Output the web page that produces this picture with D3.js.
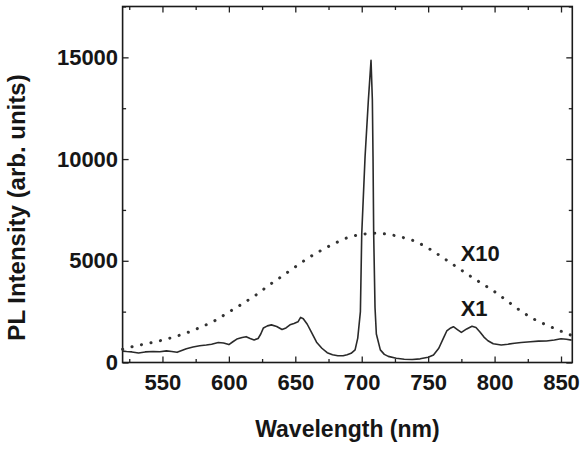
<!DOCTYPE html>
<html>
<head>
<meta charset="utf-8">
<script src="https://cdn.jsdelivr.net/npm/d3@7"></script>
<style>
  body { margin: 0; background: #fff; }
  svg text { font-family: "Liberation Sans", Arial, sans-serif; font-weight: bold; fill: #161616; }
</style>
</head>
<body>
<div id="plot"></div>
<script>
// PL spectrum
// X1 curve (solid)
const x1Wave = [520, 523, 527, 532, 537, 543, 548, 553, 557, 561, 565, 568, 573, 578, 583, 587, 592, 596, 600,
  603, 606, 610, 613, 616, 619, 622, 624, 626, 629, 632, 636, 640, 643, 646, 649, 652, 654, 656, 659, 662, 666,
  670, 674, 678, 682, 686, 689, 692, 695, 697, 699, 700, 702.5, 705, 707, 708, 708.5, 709, 710, 711, 714, 717,
  720, 726, 732, 738, 744, 750, 754, 758, 761.5, 764, 767, 769, 772, 775, 779, 783, 786, 789, 792, 795, 799,
  805, 810, 815, 820, 827, 833, 839, 845, 850, 854, 858];
const x1Int = [560, 540, 520, 470, 520, 540, 530, 570, 540, 500, 600, 680, 760, 820, 860, 900, 980, 960, 880,
  1020, 1150, 1230, 1270, 1180, 1110, 1180, 1400, 1700, 1800, 1850, 1770, 1620, 1700, 1850, 1920, 2000, 2220, 2150,
  1880, 1500, 1000, 700, 480, 380, 330, 330, 380, 450, 620, 1200, 2500, 6300, 10100, 12900, 14850, 12900, 10100,
  6300, 2700, 1400, 620, 400, 300, 210, 160, 150, 180, 260, 370, 700, 1200, 1550, 1700, 1760, 1620, 1480, 1650,
  1780, 1720, 1500, 1250, 1070, 920, 860, 900, 950, 980, 1020, 1050, 1060, 1110, 1170, 1140, 1100];

// X10 curve (dotted)
const x10Wave = [520, 530, 540, 550, 560, 570, 580, 590, 600, 610, 620, 630, 640, 650, 660, 670, 680, 690,
  700, 710, 720, 730, 740, 750, 760, 770, 780, 790, 800, 810, 820, 830, 840, 850, 858];
const x10Int = [650, 820, 950, 1100, 1280, 1500, 1770, 2080, 2480, 2880, 3300, 3790, 4240, 4700, 5150, 5530,
  5870, 6150, 6300, 6350, 6300, 6160, 5960, 5620, 5200, 4760, 4320, 3900, 3480, 3000, 2520, 2120, 1820, 1540, 1330];

const xMajor = [550, 600, 650, 700, 750, 800, 850];
const xMinor = [525, 575, 625, 675, 725, 775, 825];
const yMajor = [0, 5000, 10000, 15000];
const yMinor = [2500, 7500, 12500, 17500];

const curveLabels = [
  {text: 'X10', wave: 774.5, value: 5000},
  {text: 'X1', wave: 774.5, value: 2280}
];

let [W, H] = [582, 455];
let margin = {left: 122.6, right: 9.7, top: 6.5, bottom: 92.5};
let w = W - margin.left - margin.right;
let h = H - margin.top - margin.bottom;

let svg = d3.select('#plot').append('svg').attr('width', W).attr('height', H);
let g = svg.append('g').attr('transform', `translate(${margin.left},${margin.top})`);

let scX = d3.scaleLinear().domain([520, 858.5]).range([0, w]);
let scY = d3.scaleLinear().domain([0, 17500]).range([h, 0]);

// axes: ticks point inward on all four sides
let fontSize = 22;
g.append('g').attr('transform', `translate(0,${h})`)
  .call(d3.axisBottom(scX).tickValues(xMajor).tickSize(-6).tickPadding(12));
g.append('g').attr('transform', `translate(0,${h})`)
  .call(d3.axisBottom(scX).tickValues(xMinor).tickSize(-3.5).tickFormat(''));
g.append('g').call(d3.axisTop(scX).tickValues(xMajor).tickSize(-6).tickFormat(''));
g.append('g').call(d3.axisTop(scX).tickValues(xMinor).tickSize(-3.5).tickFormat(''));

g.append('g')
  .call(d3.axisLeft(scY).tickValues(yMajor).tickSize(-6).tickPadding(4.5).tickFormat(d3.format('d')));
g.append('g').call(d3.axisLeft(scY).tickValues(yMinor).tickSize(-3.5).tickFormat(''));
g.append('g').attr('transform', `translate(${w},0)`)
  .call(d3.axisRight(scY).tickValues(yMajor).tickSize(-6).tickFormat(''));
g.append('g').attr('transform', `translate(${w},0)`)
  .call(d3.axisRight(scY).tickValues(yMinor).tickSize(-3.5).tickFormat(''));

g.selectAll('.domain').remove();
g.selectAll('.tick line').attr('stroke', '#222').attr('stroke-width', 1.3);
g.selectAll('.tick text').attr('font-size', fontSize).attr('font-family', null);

// frame
g.append('rect').attr('width', w).attr('height', h)
  .attr('fill', 'none').attr('stroke', '#1a1a1a').attr('stroke-width', 1.6);

let line = d3.line().x(d => scX(d[0])).y(d => scY(d[1]));
let smooth = d3.line().curve(d3.curveMonotoneX).x(d => scX(d[0])).y(d => scY(d[1]));

// X10 dotted
g.append('path')
  .attr('d', smooth(d3.zip(x10Wave, x10Int)))
  .attr('fill', 'none').attr('stroke', '#333').attr('stroke-width', 3)
  .attr('stroke-linecap', 'round').attr('stroke-dasharray', '0.1,9.6');

// X1 solid
g.append('path')
  .attr('d', line(d3.zip(x1Wave, x1Int)))
  .attr('fill', 'none').attr('stroke', '#2a2a2a').attr('stroke-width', 1.6)
  .attr('stroke-linejoin', 'round');

// curve labels
g.selectAll('.clab').data(curveLabels).enter().append('text')
  .attr('class', 'clab')
  .attr('x', d => scX(d.wave))
  .attr('y', d => scY(d.value))
  .attr('font-size', fontSize)
  .text(d => d.text);

// axis titles
svg.append('text')
  .attr('x', margin.left + w / 2).attr('y', 437)
  .attr('text-anchor', 'middle').attr('font-size', 23)
  .text('Wavelength (nm)');
svg.append('text')
  .attr('transform', `translate(25,${margin.top + h / 2 + 23}) rotate(-90)`)
  .attr('text-anchor', 'middle').attr('font-size', 24)
  .text('PL Intensity (arb. units)');
</script>
</body>
</html>
